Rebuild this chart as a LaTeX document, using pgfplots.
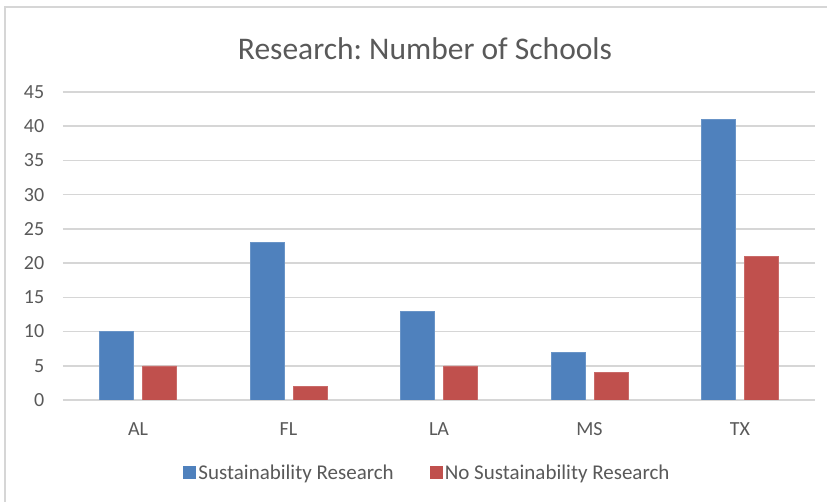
\documentclass[border=0pt]{standalone}
\usepackage{pgfplots}
\pgfplotsset{compat=1.18}
\usepackage{fontspec}
\setmainfont{Carlito}

\definecolor{barblue}{HTML}{4F81BD}
\definecolor{barred}{HTML}{C0504D}
\definecolor{gridgray}{HTML}{D6D6D6}
\definecolor{textgray}{HTML}{595959}

\begin{document}
\begin{tikzpicture}[x=1pt,y=1pt]
  \useasboundingbox (0,0) rectangle (827,502);
  % chart frame (left and top edges)
  \draw[gridgray, line width=1.2pt] (5,0) -- (5,495) -- (827,495);
  % title
  \node[anchor=base, text=textgray, font=\fontsize{31.5}{36}\selectfont]
    at (425,442) {Research:\ Number of Schools};

  \begin{axis}[
      at={(138pt,102pt)}, anchor=origin,
      scale only axis, width=752.5pt, height=308pt,
      ybar, bar width=34pt,
      xmin=-0.5, xmax=4.5, ymin=0, ymax=45,
      xtick={0,1,2,3,4}, xticklabels={AL,FL,LA,MS,TX},
      ytick={0,5,...,45},
      ymajorgrids, grid style={gridgray, line width=1.6pt},
      axis line style={draw=none}, major tick length=0pt,
      /pgf/number format/assume math mode=true,
      tick label style={text=textgray, font=\fontsize{20}{24}\selectfont},
      yticklabel style={xshift=-15pt},
      xticklabel style={yshift=-19pt},
      legend style={at={(0.4847,-0.237)}, anchor=center, draw=none,
        legend columns=2, font=\fontsize{21}{24}\selectfont, text=textgray,
        /tikz/every even column/.append style={column sep=34pt},
        nodes={inner sep=2pt}},
      legend image code/.code={\fill[#1, draw=none] (0pt,-6.5pt) rectangle (13pt,6.5pt);},
    ]
    \addplot[fill=barblue, draw=barblue!85!white, bar shift=-21.5pt]
      coordinates {(0,10) (1,23) (2,13) (3,7) (4,41)};
    \addplot[fill=barred, draw=barred!85!white, bar shift=21.5pt]
      coordinates {(0,5) (1,2) (2,5) (3,4) (4,21)};
    \legend{Sustainability Research, No Sustainability Research}
  \end{axis}
\end{tikzpicture}
\end{document}
